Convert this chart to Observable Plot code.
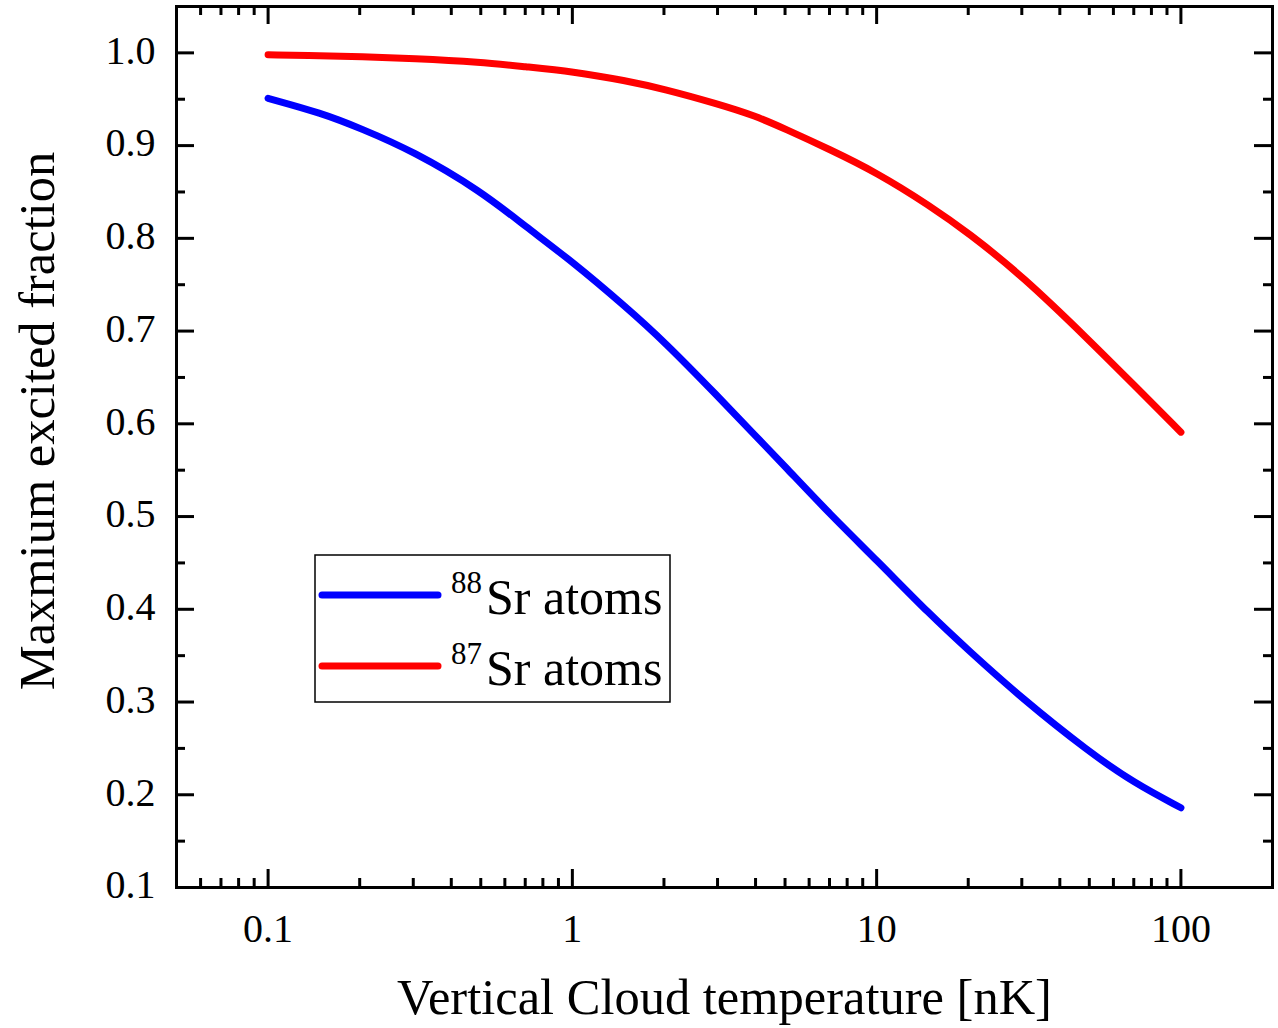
<!DOCTYPE html>
<html>
<head>
<meta charset="utf-8">
<script src="https://cdn.jsdelivr.net/npm/d3@7"></script>
<script src="https://cdn.jsdelivr.net/npm/@observablehq/plot@0.6"></script>
<style>
  body { margin: 0; background: #fff; }
  #chart { width: 1278px; height: 1028px; }
</style>
</head>
<body>
<div id="chart"></div>
<script>
// ---- data ----
const temperatures = [0.1, 0.15, 0.2, 0.3, 0.5, 0.7, 1, 1.5, 2, 3, 4, 5, 7, 10, 15, 20, 30, 50, 70, 100];
const sr88 = [0.951, 0.935, 0.919, 0.894, 0.851, 0.813, 0.775, 0.726, 0.689, 0.630, 0.587, 0.554, 0.503, 0.453, 0.394, 0.356, 0.304, 0.246, 0.213, 0.186];
const sr87 = [0.998, 0.997, 0.996, 0.994, 0.990, 0.985, 0.980, 0.970, 0.961, 0.945, 0.932, 0.918, 0.896, 0.871, 0.835, 0.806, 0.760, 0.690, 0.642, 0.591];
const seriesKeys = ["88Sr atoms", "87Sr atoms"];
const seriesMass = ["88", "87"];
const seriesRest = "Sr atoms";
const seriesColors = ["#0000ff", "#ff0000"];

const xMajorTicks = [0.1, 1, 10, 100];
const xTickLabels = ["0.1", "1", "10", "100"];
const xMinorTicks = [0.06, 0.07, 0.08, 0.09, 0.2, 0.3, 0.4, 0.5, 0.6, 0.7, 0.8, 0.9,
                     2, 3, 4, 5, 6, 7, 8, 9, 20, 30, 40, 50, 60, 70, 80, 90];
const yMajorTicks = [0.1, 0.2, 0.3, 0.4, 0.5, 0.6, 0.7, 0.8, 0.9, 1.0];
const yTickLabels = ["0.1", "0.2", "0.3", "0.4", "0.5", "0.6", "0.7", "0.8", "0.9", "1.0"];
const yMinorTicks = [0.15, 0.25, 0.35, 0.45, 0.55, 0.65, 0.75, 0.85, 0.95];

const xTitle = "Vertical Cloud temperature [nK]";
const yTitle = "Maxmium excited fraction";

// ---- build table ----
const series = [sr88, sr87];
const rows = [];
series.forEach((vals, s) => temperatures.forEach((t, i) => rows.push({t, v: vals[i], s: seriesKeys[s]})));

// ---- layout ----
const W = 1278, H = 1028, mL = 176, mR = 6, mT = 6, mB = 141;
const frameW = W - mL - mR, frameH = H - mT - mB;
const majorLen = 18, minorLen = 9;
const tk = {stroke: "black", strokeWidth: 3};
const font = '"Liberation Serif", "Times New Roman", Times, serif';

const plot = Plot.plot({
  width: W, height: H,
  marginLeft: mL, marginRight: mR, marginTop: mT, marginBottom: mB,
  style: {fontFamily: font, background: "white", color: "black", overflow: "visible"},
  x: {type: "log", domain: [0.05, 200]},
  y: {domain: [0.1, 1.05]},
  color: {domain: seriesKeys, range: seriesColors},
  marks: [
    Plot.line(rows, {x: "t", y: "v", z: "s", stroke: "s", strokeWidth: 7,
      curve: "basis", strokeLinecap: "round", strokeLinejoin: "round"}),
    // inward ticks on all four sides
    Plot.ruleX(xMajorTicks, {insetTop: frameH - majorLen, ...tk}),
    Plot.ruleX(xMajorTicks, {insetBottom: frameH - majorLen, ...tk}),
    Plot.ruleX(xMinorTicks, {insetTop: frameH - minorLen, ...tk}),
    Plot.ruleX(xMinorTicks, {insetBottom: frameH - minorLen, ...tk}),
    Plot.ruleY(yMajorTicks, {insetRight: frameW - majorLen, ...tk}),
    Plot.ruleY(yMajorTicks, {insetLeft: frameW - majorLen, ...tk}),
    Plot.ruleY(yMinorTicks, {insetRight: frameW - minorLen, ...tk}),
    Plot.ruleY(yMinorTicks, {insetLeft: frameW - minorLen, ...tk}),
    Plot.frame({stroke: "black", strokeWidth: 3}),
    Plot.axisX(xMajorTicks, {anchor: "bottom", tickSize: 0, tickPadding: 26, fontSize: 40,
      tickFormat: d => xTickLabels[xMajorTicks.indexOf(d)], label: null}),
    Plot.axisY(yMajorTicks, {anchor: "left", tickSize: 0, tickPadding: 21, fontSize: 40, dy: -2,
      tickFormat: d => yTickLabels[yMajorTicks.indexOf(d)], label: null}),
    Plot.text([xTitle], {text: d => d, frameAnchor: "bottom", lineAnchor: "bottom", textAnchor: "middle",
      dy: 126, fontSize: 50.5, fill: "black"}),
    Plot.text([yTitle], {text: d => d, frameAnchor: "left", lineAnchor: "bottom", textAnchor: "middle",
      rotate: -90, dx: -123, dy: -26, fontSize: 50.5, fill: "black"})
  ]
});

// ---- legend box inside the frame ----
const svg = d3.select(plot);
const lg = svg.append("g").attr("font-family", font).attr("fill", "black").attr("text-anchor", "start");
lg.append("rect").attr("x", 315).attr("y", 555).attr("width", 355).attr("height", 147)
  .attr("fill", "white").attr("stroke", "black").attr("stroke-width", 1.5);
seriesKeys.forEach((k, i) => {
  const y0 = 595 + i * 71;
  lg.append("line").attr("x1", 322).attr("x2", 438).attr("y1", y0).attr("y2", y0)
    .attr("stroke", seriesColors[i]).attr("stroke-width", 7).attr("stroke-linecap", "round");
  lg.append("text").attr("x", 451).attr("y", y0 - 2).attr("font-size", 31).text(seriesMass[i]);
  lg.append("text").attr("x", 486).attr("y", y0 + 19).attr("font-size", 50).text(seriesRest);
});

document.getElementById("chart").appendChild(plot);
</script>
</body>
</html>
